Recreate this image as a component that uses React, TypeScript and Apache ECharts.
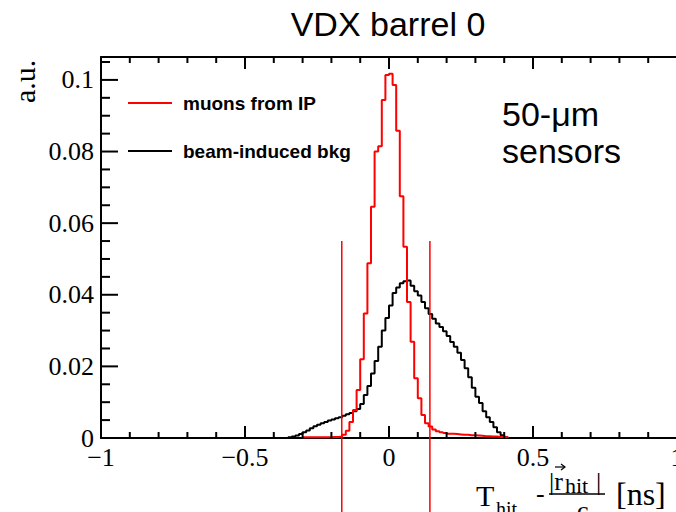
import React, { useEffect, useRef } from "react";
import * as echarts from "echarts";

// ---- data ----
const BIN_WIDTH = 0.0125;
// muons from IP: lower edge of first bin and bin contents
const RED_START = -0.3;
const redValues = [
  0.0002, 0.0002, 0.0002, 0.0002, 0.0002, 0.0002, 0.0002, 0.0002, 0.0003, 0.0003,
  0.0004, 0.0009, 0.002, 0.0045, 0.0078, 0.0134, 0.022, 0.0348, 0.0488, 0.0646,
  0.08, 0.0815, 0.0944, 0.1014, 0.1017, 0.0986, 0.0858, 0.0675, 0.0534, 0.038,
  0.0269, 0.0167, 0.0111, 0.0064, 0.0041, 0.0032, 0.0024, 0.0019, 0.0016, 0.0014,
  0.0012, 0.0012, 0.0011, 0.001, 0.0009, 0.0009, 0.0008, 0.0008, 0.0007, 0.0006,
  0.0005, 0.0005, 0.0004, 0.0004, 0.0003, 0.0003, 0.0002,
];
// beam-induced background
const BLACK_START = -0.35;
const blackValues = [
  0.0002, 0.0004, 0.0007, 0.0011, 0.0016, 0.0021, 0.0027, 0.0033, 0.0037, 0.0041,
  0.0045, 0.0049, 0.0052, 0.0055, 0.0058, 0.0062, 0.0066, 0.007, 0.0075, 0.0081,
  0.0095, 0.012, 0.0145, 0.018, 0.0215, 0.0255, 0.03, 0.0335, 0.037, 0.0405,
  0.042, 0.0432, 0.0438, 0.044, 0.0425, 0.041, 0.0398, 0.038, 0.0362, 0.0346,
  0.0333, 0.032, 0.031, 0.0298, 0.0285, 0.0268, 0.0255, 0.0238, 0.0218, 0.0195,
  0.017, 0.014, 0.0115, 0.0098, 0.0075, 0.0058, 0.0045, 0.003, 0.0016, 0.0008,
  0.0002,
];
const cutLines = [-0.164, 0.142];
const CUT_TOP = 0.055;
const CUT_BOTTOM = -0.021;
const seriesNames = ["muons from IP", "beam-induced bkg"];
const X_MIN = -1;
const X_MAX = 1;
const Y_MAX = 0.1064;
// tick positions
const xMajorTicks = [-1, -0.5, 0, 0.5, 1];
const xMinorTicks = [-0.9, -0.8, -0.7, -0.6, -0.4, -0.3, -0.2, -0.1, 0.1, 0.2, 0.3, 0.4, 0.6, 0.7, 0.8, 0.9];
const yMajorTicks = [0, 0.02, 0.04, 0.06, 0.08, 0.1];
const yMinorTicks = [
  0.005, 0.01, 0.015, 0.025, 0.03, 0.035, 0.045, 0.05, 0.055, 0.065, 0.07, 0.075, 0.085, 0.09,
  0.095, 0.105,
];
const X_MAJOR_LEN = 12;
const X_MINOR_LEN = 6;
const Y_MAJOR_LEN = 17;
const Y_MINOR_LEN = 9;

function histPoints(start: number, values: number[]) {
  const pts: number[][] = [[start, 0]];
  values.forEach((v, i) => pts.push([start + i * BIN_WIDTH, v]));
  const end = start + values.length * BIN_WIDTH;
  pts.push([end, values[values.length - 1]]);
  pts.push([end, 0]);
  return pts;
}

const SERIF = "Liberation Serif";
const SANS = "Liberation Sans";

function txt(text: string, x: number, y: number, fontSize: number, opts: any = {}) {
  return {
    type: "text",
    x,
    y,
    rotation: opts.rotation || 0,
    silent: true,
    style: {
      text,
      fontSize,
      fontFamily: opts.family || SERIF,
      fontWeight: opts.weight || "normal",
      fill: "#000",
      align: opts.align || "left",
      verticalAlign: "middle",
    },
  };
}

const tickLine = (x1: number, y1: number, x2: number, y2: number) => ({
  type: "line",
  shape: { x1, y1, x2, y2 },
  style: { stroke: "#000", lineWidth: 2 },
});

export default function App() {
  const ref = useRef<HTMLDivElement>(null);
  useEffect(() => {
    if (!ref.current) return;
    const chart = echarts.init(ref.current, undefined, { renderer: "svg" });
    const xCommon = {
      type: "value",
      min: X_MIN,
      max: X_MAX,
      interval: 0.5,
      splitLine: { show: false },
      axisLine: { show: true, onZero: false, lineStyle: { color: "#000", width: 2 } },
      axisTick: { show: false },
      minorTick: { show: false },
    };
    const xTickData = [
      ...xMajorTicks.map((v) => [v, 0, X_MAJOR_LEN]),
      ...xMinorTicks.map((v) => [v, 0, X_MINOR_LEN]),
    ];
    const yTickData = [
      ...yMajorTicks.map((v) => [X_MIN, v, Y_MAJOR_LEN]),
      ...yMinorTicks.map((v) => [X_MIN, v, Y_MINOR_LEN]),
    ];
    const option: any = {
      animation: false,
      backgroundColor: "#fff",
      grid: {
        left: 101,
        top: 57,
        width: 576,
        height: 381,
        containLabel: false,
        outerBoundsMode: "none",
      },
      xAxis: [
        {
          ...xCommon,
          position: "bottom",
          axisLabel: {
            show: true,
            margin: 6,
            fontFamily: SERIF,
            fontSize: 26,
            color: "#000",
            formatter: (v: number) =>
              v === 0 ? "0" : v < 0 ? "\u2212" + String(Math.abs(v)) : String(v),
          },
        },
        { ...xCommon, position: "top", axisLabel: { show: false } },
      ],
      yAxis: [
        {
          type: "value",
          position: "left",
          min: 0,
          max: Y_MAX,
          interval: 0.02,
          splitLine: { show: false },
          axisLine: { show: true, onZero: false, lineStyle: { color: "#000", width: 2 } },
          axisTick: { show: false },
          axisLabel: {
            show: true,
            margin: 7,
            fontFamily: SERIF,
            fontSize: 26,
            color: "#000",
            showMaxLabel: false,
            formatter: (v: number) => (v === 0 ? "0" : String(parseFloat(v.toFixed(3)))),
          },
        },
      ],
      legend: {
        data: seriesNames,
        orient: "vertical",
        left: 128,
        top: 92,
        padding: 0,
        itemGap: 26,
        itemWidth: 44,
        itemHeight: 2,
        icon: "rect",
        selectedMode: false,
        textStyle: {
          fontFamily: SANS,
          fontWeight: "bold",
          fontSize: 19,
          color: "#000",
          lineHeight: 22,
          padding: [0, 0, 0, 6],
        },
      },
      series: [
        {
          name: seriesNames[1],
          type: "line",
          step: "end",
          symbol: "none",
          data: histPoints(BLACK_START, blackValues),
          color: "#000",
          itemStyle: { color: "#000" },
          lineStyle: { color: "#000", width: 2 },
          z: 3,
        },
        {
          name: seriesNames[0],
          type: "line",
          step: "end",
          symbol: "none",
          data: histPoints(RED_START, redValues),
          color: "#ff0000",
          itemStyle: { color: "#ff0000" },
          lineStyle: { color: "#ff0000", width: 2 },
          z: 4,
        },
        ...cutLines.map((c, i) => ({
          name: "cut" + i,
          type: "line",
          symbol: "none",
          clip: false,
          silent: true,
          data: [
            [c, CUT_TOP],
            [c, CUT_BOTTOM],
          ],
          lineStyle: { color: "#ff0000", width: 1.5 },
          z: 5,
        })),
        {
          name: "xticks",
          type: "custom",
          coordinateSystem: "cartesian2d",
          xAxisIndex: 0,
          yAxisIndex: 0,
          silent: true,
          clip: false,
          z: 6,
          encode: { x: 0, y: 1 },
          data: xTickData,
          renderItem: (_params: any, api: any) => {
            const v = api.value(0);
            const len = api.value(2);
            const b = api.coord([v, 0]);
            const t = api.coord([v, Y_MAX]);
            return {
              type: "group",
              children: [
                tickLine(b[0], b[1], b[0], b[1] - len),
                tickLine(t[0], t[1], t[0], t[1] + len),
              ],
            };
          },
        },
        {
          name: "yticks",
          type: "custom",
          coordinateSystem: "cartesian2d",
          xAxisIndex: 0,
          yAxisIndex: 0,
          silent: true,
          clip: false,
          z: 6,
          encode: { x: 0, y: 1 },
          data: yTickData,
          renderItem: (_params: any, api: any) => {
            const v = api.value(1);
            const len = api.value(2);
            const p = api.coord([X_MIN, v]);
            return tickLine(p[0], p[1], p[0] + len, p[1]);
          },
        },
      ],
      graphic: [
        txt("VDX barrel 0", 388, 24, 34, { family: SANS, align: "center" }),
        txt("50-\u03bcm", 502, 114, 34, { family: SANS }),
        txt("sensors", 502, 151, 34, { family: SANS }),
        txt("a.u.", 24, 103, 30, { rotation: Math.PI / 2 }),
        // x-axis title: T_hit - |r_hit|/c [ns]
        txt("T", 476, 495, 30),
        txt("hit", 496, 509, 20),
        txt("-", 536, 493, 26),
        txt("|r", 549, 481, 26),
        txt("hit", 565, 485, 22),
        txt("|", 596, 481, 26),
        {
          type: "line",
          silent: true,
          shape: { x1: 555, y1: 467, x2: 565, y2: 467 },
          style: { stroke: "#000", lineWidth: 1.2 },
        },
        {
          type: "polyline",
          silent: true,
          shape: { points: [[561, 464], [565, 467], [561, 470]] },
          style: { stroke: "#000", lineWidth: 1.2, fill: null },
        },
        {
          type: "line",
          silent: true,
          shape: { x1: 549, y1: 494, x2: 605, y2: 494 },
          style: { stroke: "#000", lineWidth: 1.5 },
        },
        txt("c", 577, 510, 26),
        txt("[ns]", 616, 494, 32),
      ],
    };
    chart.setOption(option);
    return () => chart.dispose();
  }, []);
  return (
    <div
      ref={ref}
      style={{ position: "fixed", left: 0, top: 0, width: 676, height: 512, background: "#fff" }}
    />
  );
}
